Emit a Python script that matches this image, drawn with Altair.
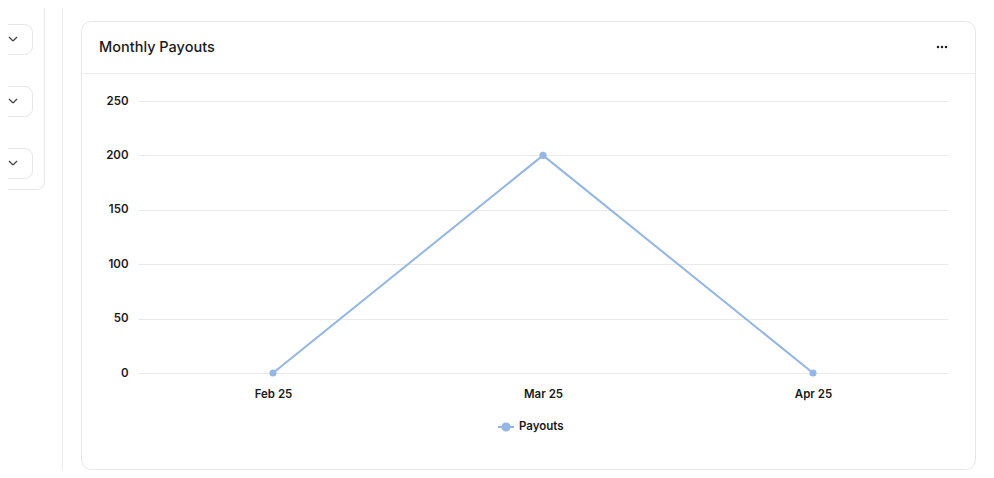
import altair as alt
import pandas as pd

months = ["Feb 25", "Mar 25", "Apr 25"]
payouts = [0, 200, 0]
series_name = "Payouts"
y_ticks = [0, 50, 100, 150, 200, 250]

LINE_COLOR = "#93b6e4"
FONT = "Inter"
TEXT = "#1a1a1a"
BORDER = "#e6e6e6"

df = pd.DataFrame({"month": months, "payouts": payouts, "series": [series_name] * len(months)})
dummy = pd.DataFrame({"a": [0]})

# plot-area origin in page coords is (138, 101)
OX, OY = 138, 101
def px(v): return v - OX
def py(v): return v - OY

deco = []
base = alt.Chart(dummy)
# main card
deco.append(base.mark_rect(fill="transparent", stroke=BORDER, strokeWidth=1, cornerRadius=10).encode(
    x=alt.value(px(81.5)), x2=alt.value(px(975.5)), y=alt.value(py(21.5)), y2=alt.value(py(469.5))))
# header divider
deco.append(base.mark_rule(color="#eeeeee", strokeWidth=1).encode(
    x=alt.value(px(82)), x2=alt.value(px(975)), y=alt.value(py(73.5))))
# left vertical separator
deco.append(base.mark_rule(color="#ececec", strokeWidth=1).encode(
    x=alt.value(px(62.5)), y=alt.value(py(-10)), y2=alt.value(py(490))))
# sidebar card
deco.append(base.mark_rect(fill="transparent", stroke=BORDER, strokeWidth=1, cornerRadius=8).encode(
    x=alt.value(px(-30)), x2=alt.value(px(44.5)), y=alt.value(py(-20)), y2=alt.value(py(189.5))))
# dropdown boxes and chevrons
for top in [24, 86, 148]:
    deco.append(base.mark_rect(fill="transparent", stroke=BORDER, strokeWidth=1, cornerRadius=8).encode(
        x=alt.value(px(-30)), x2=alt.value(px(32.5)), y=alt.value(py(top + 0.5)), y2=alt.value(py(top + 30.5))))
    cy = top + 15
    deco.append(base.mark_rule(color="#444444", strokeWidth=1.2).encode(
        x=alt.value(px(9)), x2=alt.value(px(13)), y=alt.value(py(cy - 2)), y2=alt.value(py(cy + 2))))
    deco.append(base.mark_rule(color="#444444", strokeWidth=1.2).encode(
        x=alt.value(px(13)), x2=alt.value(px(17)), y=alt.value(py(cy + 2)), y2=alt.value(py(cy - 2))))
# card title
deco.append(base.mark_text(text="Monthly Payouts", font=FONT, fontSize=14.5, fontWeight=500, color=TEXT,
                           align="left", baseline="middle").encode(x=alt.value(px(99)), y=alt.value(py(48))))
# ellipsis menu
for dx in [938, 942, 946]:
    deco.append(base.mark_point(filled=True, color="#222222", size=5, shape="square", opacity=1).encode(
        x=alt.value(px(dx)), y=alt.value(py(47))))

xenc = alt.X("month:N", sort=months, title=None,
             scale=alt.Scale(type="point", padding=0.5),
             axis=alt.Axis(labelAngle=0, labelPadding=15, domain=False, ticks=False, grid=False))
yenc = alt.Y("payouts:Q", title=None, scale=alt.Scale(domain=[0, 250], nice=False),
             axis=alt.Axis(values=y_ticks, labelPadding=10, domain=False, ticks=False, grid=True))

legend_path = "M-1,0L1,0M0.45,0A0.45,0.45,0,1,1,-0.45,0A0.45,0.45,0,1,1,0.45,0Z"

line = alt.Chart(df).mark_line(strokeWidth=2).encode(
    x=xenc, y=yenc,
    color=alt.Color("series:N", scale=alt.Scale(domain=[series_name], range=[LINE_COLOR]),
                    legend=alt.Legend(title=None, orient="none", legendX=px(497), legendY=py(418),
                                      symbolType=legend_path, symbolSize=256,
                                      symbolStrokeWidth=2, symbolFillColor=LINE_COLOR,
                                      labelFont=FONT, labelFontSize=11.5, labelFontWeight=600,
                                      labelColor=TEXT, labelOffset=4)))
points = alt.Chart(df).mark_point(filled=True, color=LINE_COLOR, size=50, opacity=1).encode(x=xenc, y=yenc)

chart = alt.layer(*deco, line, points).properties(
    width=810, height=272,
    autosize=alt.AutoSizeParams(type="none"),
    padding={"left": 130, "top": 93, "right": 38, "bottom": 97},
).configure_view(stroke=None).configure_axis(
    labelFont=FONT, labelFontSize=11.5, labelFontWeight=600, labelColor=TEXT,
    gridColor="#e9e9e9", gridWidth=1,
)

chart.save("out.html", embed_options={"renderer": "svg", "actions": False})
